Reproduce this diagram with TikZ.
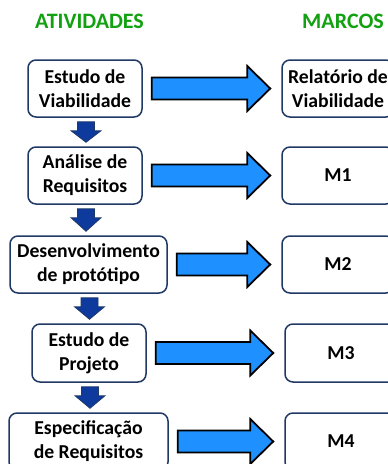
\documentclass[tikz,border=0pt]{standalone}
\usepackage{fontspec}
\setmainfont{Carlito}
\usetikzlibrary{calc}
\definecolor{navy}{RGB}{31,56,100}
\definecolor{darkarr}{RGB}{14,58,158}
\definecolor{bigblue}{RGB}{30,144,255}
\definecolor{titlegreen}{RGB}{17,161,17}
\tikzset{
  actbox/.style={draw=navy, line width=1.5pt, rounded corners=8pt, fill=white,
    minimum height=57pt, align=center, inner sep=2pt,
    font=\bfseries\fontsize{19.7}{24}\selectfont},
  title/.style={text=titlegreen, font=\bfseries\fontsize{22}{24}\selectfont},
  bigarr/.style={draw=black, line width=1.8pt, fill=bigblue, line join=miter},
  smallarr/.style={draw=navy, line width=0.8pt, fill=darkarr, line join=miter}
}
\newcommand\blockarrow[2]{%
  \draw[bigarr] let \p1=(#1.east), \p2=(#2.west) in
    (\x1+9pt,\y1+11pt) -- (\x2-34pt,\y1+11pt) -- (\x2-34pt,\y1+22.5pt) --
    (\x2-11pt,\y1) -- (\x2-34pt,\y1-22.5pt) -- (\x2-34pt,\y1-11pt) --
    (\x1+9pt,\y1-11pt) -- cycle;}
\newcommand\stepdownarrow[2]{%
  \draw[smallarr] let \p1=(#1.south), \p2=(#2.north) in
    (\x1-7.5pt,\y1-4pt) -- (\x1+9.5pt,\y1-4pt) -- (\x1+9.5pt,\y1-13pt) --
    (\x1+16pt,\y1-13pt) -- (\x1+1pt,\y2+4pt) -- (\x1-14pt,\y1-13pt) --
    (\x1-7.5pt,\y1-13pt) -- cycle;}
\begin{document}
\begin{tikzpicture}[x=1pt,y=-1pt]
\useasboundingbox (0,0) rectangle (388,464);
\node[title] (t1) at (89.5,21) {ATIVIDADES};
\node[title] (t2) at (343,21) {MARCOS};
\node[actbox, minimum width=114pt] (a1) at (85,88.5) {Estudo de\\Viabilidade};
\node[actbox, minimum width=114pt] (a2) at (85,175.5) {Análise de\\Requisitos};
\node[actbox, minimum width=157pt] (a3) at (88.5,264.5) {Desenvolvimento\\de protótipo};
\node[actbox, minimum width=114pt, minimum height=58pt] (a4) at (89,353) {Estudo de\\Projeto};
\node[actbox, minimum width=159pt] (a5) at (88.5,441.5) {Especificação\\de Requisitos};
\node[actbox, minimum width=112pt] (m0) at (338,88.5) {Relatório de\\Viabilidade};
\node[actbox, minimum width=112pt] (m1) at (338,175.5) {M1};
\node[actbox, minimum width=112pt] (m2) at (338,264.5) {M2};
\node[actbox, minimum width=112pt, minimum height=58pt] (m3) at (341,353) {M3};
\node[actbox, minimum width=112pt] (m4) at (341,441.5) {M4};
\blockarrow{a1}{m0}
\blockarrow{a2}{m1}
\blockarrow{a3}{m2}
\blockarrow{a4}{m3}
\blockarrow{a5}{m4}
\stepdownarrow{a1}{a2}
\stepdownarrow{a2}{a3}
\stepdownarrow{a3}{a4}
\stepdownarrow{a4}{a5}
\end{tikzpicture}
\end{document}
